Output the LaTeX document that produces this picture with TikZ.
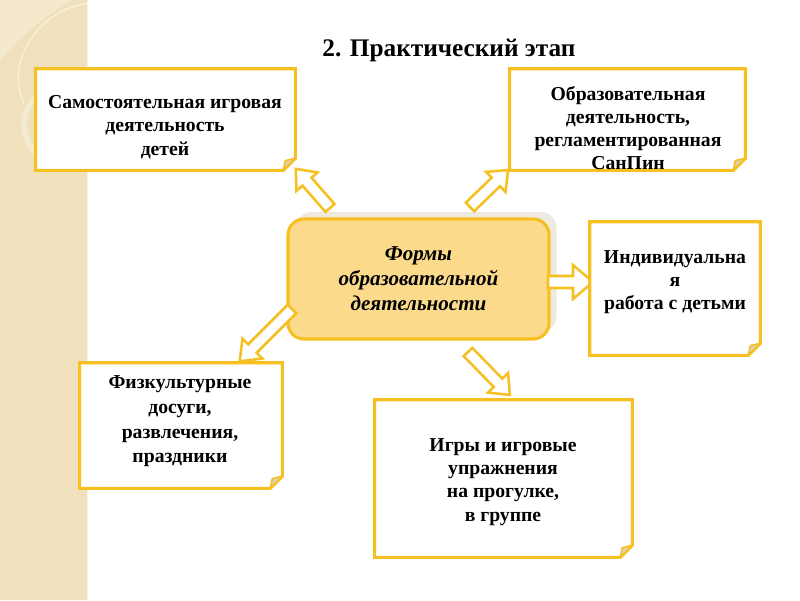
\documentclass[tikz,border=0pt]{standalone}
\usepackage{fontspec}
\setmainfont{Liberation Serif}
\definecolor{gold}{RGB}{247,192,34}
\definecolor{beige}{RGB}{240,225,188}
\definecolor{beigelight}{RGB}{244,233,205}
\definecolor{cfill}{RGB}{252,218,140}
\definecolor{shadowc}{RGB}{238,234,224}
\definecolor{foldc}{RGB}{218,210,192}
\tikzset{
  boxline/.style={draw=gold, line width=2.2pt, fill=white, line join=miter},
  foldline/.style={draw=gold, line width=1.2pt, fill=foldc, line join=round},
  boxtext/.style={align=center, font=\fontsize{14}{16.5}\selectfont\bfseries, inner sep=0pt, text=black},
  boxarea/.style={inner sep=0pt},
  arrowline/.style={draw=gold, fill=white, line width=1.8pt, line join=miter},
  centerbox/.style={rounded corners=0.4cm, draw=gold, line width=2.2pt, fill=cfill, minimum width=6.525cm, minimum height=3cm, align=center, inner sep=0pt, font=\fontsize{15}{17.8}\selectfont\bfseries\itshape},
  shadowbox/.style={rounded corners=0.4cm, fill=shadowc, minimum width=6.525cm, minimum height=3cm, inner sep=0pt},
  titletext/.style={font=\fontsize{18}{20}\selectfont\bfseries, inner sep=0pt}
}
\newcommand\dogear[1]{%
  \draw[boxline] (#1.north west) -- (#1.north east) -- ([yshift=0.3cm]#1.south east) -- ([xshift=-0.3cm]#1.south east) -- (#1.south west) -- cycle;
  \draw[foldline] ([yshift=0.3cm]#1.south east) -- ([xshift=-0.3cm]#1.south east) -- ([xshift=-0.25cm,yshift=0.24cm]#1.south east) -- cycle;
}
% #1 name, #2 tail, #3 angle, #4 length, #5 head half-width, #6 head length
\newcommand\blockarrow[6]{%
  \begin{scope}[shift={#2}, rotate=#3]
    \draw[arrowline] (0,-6) -- (#4-#6,-6) -- (#4-#6,-#5) -- (#4,0) -- (#4-#6,#5) -- (#4-#6,6) -- (0,6) -- cycle;
    \coordinate (#1) at (#4/2,0);
  \end{scope}}
\begin{document}
\begin{tikzpicture}[x=0.025cm,y=-0.025cm]
\useasboundingbox (0,0) rectangle (800,600);
\fill[white] (0,0) rectangle (800,600);
% left decorative strip
\fill[beige] (0,0) rectangle (88,600);
\fill[beigelight] (0,0) -- (72,0) .. controls (48,14) and (16,38) .. (0,62) -- cycle;
\draw[white, opacity=0.5, line width=1pt] (88,3) .. controls (40,10) and (4,60) .. (24,104);
\draw[white, opacity=0.3, line width=4pt] (62,125) circle (0.95cm);
\draw[white, opacity=0.6, line width=0.8pt] (88,0) -- (88,600);

\node[titletext] (title) at (449,50) {2. Практический этап};

% centre
\node[shadowbox] (cs) at (426,272) {};
\node[centerbox] (c) at (418.5,279) {Формы\\образовательной\\деятельности};

% arrows
\blockarrow{a1}{(330,208)}{131.1}{52}{14}{17}
\blockarrow{a2}{(470,207)}{44.2}{53}{14}{17}
\blockarrow{a3}{(548,282)}{0}{45}{17}{20}
\blockarrow{a4}{(292,309)}{225}{74}{14}{18}
\blockarrow{a5}{(468,352)}{-45.7}{60}{14}{17}

% boxes
\node[boxarea, minimum width=6.475cm, minimum height=2.525cm] (b1) at (165.5,119.5) {};
\dogear{b1}
\node[boxtext] (t1) at (165,127) {Самостоятельная игровая\\деятельность\\детей};

\node[boxarea, minimum width=5.875cm, minimum height=2.525cm] (b2) at (627.5,119.5) {};
\dogear{b2}
\node[boxtext] (t2) at (628,128) {Образовательная\\деятельность,\\регламентированная\\СанПин};

\node[boxarea, minimum width=4.25cm, minimum height=3.325cm] (b3) at (675,288.5) {};
\dogear{b3}
\node[boxtext] (t3) at (675,282) {Индивидуальна\\я\\работа с детьми};

\node[boxarea, minimum width=5.05cm, minimum height=3.125cm] (b4) at (181,425.5) {};
\dogear{b4}
\node[boxtext, font=\fontsize{14}{17.5}\selectfont\bfseries] (t4) at (180,421.5) {Физкультурные\\досуги,\\развлечения,\\праздники};

\node[boxarea, minimum width=6.425cm, minimum height=3.925cm] (b5) at (503.5,478.5) {};
\dogear{b5}
\node[boxtext] (t5) at (503,482) {Игры и игровые\\упражнения\\на прогулке,\\в группе};
\end{tikzpicture}
\end{document}
